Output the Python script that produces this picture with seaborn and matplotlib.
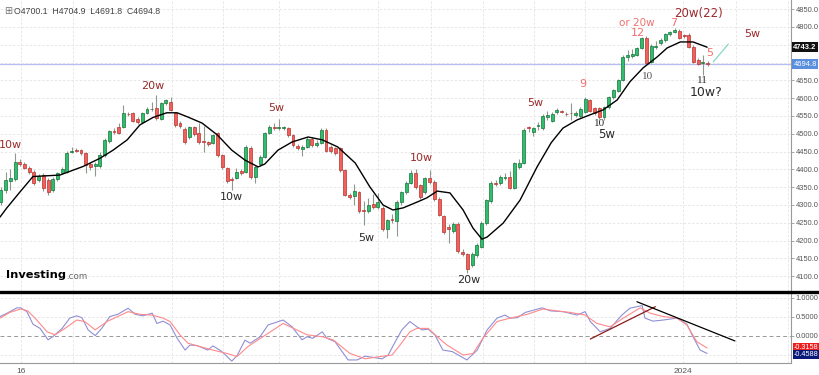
import numpy as np
import pandas as pd
import matplotlib.pyplot as plt
import matplotlib.transforms as mtransforms
from matplotlib.lines import Line2D
import seaborn as sns

# ---- daily candles ----
opens = [4308, 4342, 4367, 4373, 4420, 4415, 4404, 4393, 4370, 4384,
         4370, 4342, 4373, 4390, 4393, 4450, 4455, 4454, 4446, 4415,
         4410, 4409, 4440, 4480, 4508, 4519, 4519, 4556, 4558, 4541,
         4533, 4558, 4569, 4572, 4541, 4586, 4589, 4558, 4530, 4513,
         4491, 4519, 4502, 4479, 4477, 4474, 4502, 4440, 4404, 4372,
         4376, 4395, 4393, 4460, 4379, 4415, 4435, 4502, 4518, 4516,
         4516, 4516, 4497, 4466, 4457, 4463, 4486, 4469, 4474, 4511,
         4463, 4460, 4460, 4398, 4328, 4325, 4336, 4285, 4283, 4303,
         4294, 4291, 4232, 4261, 4255, 4308, 4336, 4362, 4390, 4356,
         4336, 4376, 4365, 4317, 4269, 4238, 4227, 4247, 4168, 4162,
         4131, 4159, 4182, 4249, 4311, 4362, 4362, 4376, 4379, 4348,
         4407, 4418, 4517, 4505, 4522, 4516, 4547, 4536, 4561, 4564,
         4556, 4558, 4553, 4550, 4561, 4595, 4572, 4572, 4547, 4575,
         4603, 4620, 4651, 4716, 4719, 4722, 4741, 4769, 4702, 4744,
         4755, 4763, 4780, 4786, 4789, 4776, 4778, 4744, 4708, 4699,
         4700.1]
closes = [4342, 4370, 4376, 4420, 4415, 4404, 4393, 4362, 4381, 4348,
          4336, 4373, 4390, 4401, 4446, 4452, 4453, 4446, 4412, 4407,
          4415, 4440, 4483, 4508, 4505, 4502, 4558, 4555, 4536, 4533,
          4558, 4570, 4570, 4544, 4586, 4594, 4567, 4525, 4522, 4477,
          4519, 4499, 4477, 4477, 4471, 4497, 4440, 4407, 4367, 4370,
          4393, 4390, 4463, 4379, 4407, 4435, 4502, 4519, 4515, 4517,
          4518, 4497, 4469, 4460, 4463, 4486, 4469, 4474, 4511, 4452,
          4452, 4446, 4398, 4328, 4322, 4338, 4283, 4283, 4300, 4294,
          4308, 4232, 4258, 4259, 4308, 4336, 4362, 4390, 4350, 4322,
          4376, 4365, 4317, 4272, 4224, 4232, 4247, 4171, 4162, 4120,
          4162, 4187, 4249, 4314, 4362, 4359, 4379, 4379, 4348, 4418,
          4418, 4510, 4516, 4516, 4525, 4550, 4553, 4555, 4567, 4561,
          4555, 4557, 4558, 4570, 4598, 4564, 4558, 4547, 4575, 4603,
          4623, 4651, 4716, 4722, 4724, 4741, 4769, 4699, 4747, 4747,
          4763, 4780, 4786, 4791, 4769, 4775, 4744, 4702, 4696, 4700,
          4694.8]
highs = [4350, 4393, 4400, 4446, 4428, 4420, 4410, 4398, 4386, 4390,
         4375, 4378, 4394, 4406, 4452, 4462, 4460, 4458, 4450, 4420,
         4420, 4448, 4488, 4512, 4515, 4531, 4580, 4562, 4562, 4546,
         4562, 4575, 4588, 4609, 4590, 4597, 4603, 4562, 4535, 4520,
         4523, 4523, 4530, 4522, 4480, 4500, 4506, 4444, 4408, 4378,
         4405, 4400, 4468, 4465, 4412, 4440, 4506, 4525, 4530, 4541,
         4522, 4520, 4500, 4470, 4468, 4490, 4490, 4482, 4515, 4515,
         4468, 4464, 4463, 4402, 4333, 4360, 4340, 4310, 4320, 4330,
         4335, 4296, 4262, 4275, 4315, 4340, 4368, 4398, 4400, 4360,
         4380, 4398, 4370, 4322, 4272, 4248, 4252, 4251, 4175, 4166,
         4168, 4192, 4254, 4318, 4366, 4370, 4384, 4390, 4395, 4422,
         4430, 4515, 4522, 4520, 4533, 4555, 4565, 4560, 4572, 4568,
         4560, 4586, 4563, 4575, 4602, 4598, 4576, 4576, 4579, 4607,
         4627, 4655, 4720, 4735, 4738, 4745, 4773, 4776, 4752, 4762,
         4768, 4784, 4790, 4798, 4793, 4780, 4782, 4748, 4712, 4722,
         4704.9]
lows = [4300, 4335, 4342, 4368, 4410, 4400, 4388, 4355, 4365, 4340,
        4328, 4336, 4368, 4386, 4390, 4445, 4448, 4440, 4390, 4398,
        4381, 4405, 4436, 4475, 4498, 4498, 4515, 4550, 4532, 4528,
        4530, 4555, 4565, 4540, 4538, 4582, 4563, 4518, 4515, 4472,
        4486, 4494, 4470, 4450, 4466, 4470, 4436, 4402, 4362, 4342,
        4372, 4385, 4390, 4372, 4362, 4410, 4432, 4498, 4510, 4510,
        4510, 4492, 4462, 4455, 4437, 4460, 4464, 4462, 4470, 4448,
        4447, 4440, 4394, 4324, 4318, 4300, 4278, 4244, 4278, 4288,
        4290, 4226, 4207, 4250, 4213, 4300, 4332, 4358, 4345, 4318,
        4330, 4360, 4312, 4268, 4218, 4193, 4222, 4166, 4158, 4110,
        4126, 4155, 4178, 4245, 4306, 4352, 4355, 4370, 4345, 4345,
        4402, 4414, 4505, 4495, 4512, 4512, 4540, 4532, 4556, 4557,
        4550, 4539, 4548, 4545, 4557, 4560, 4552, 4542, 4540, 4571,
        4598, 4616, 4648, 4705, 4712, 4718, 4737, 4695, 4698, 4738,
        4750, 4759, 4776, 4782, 4765, 4770, 4740, 4698, 4692, 4665,
        4691.8]

# ---- smoothed moving average (black line) ----
ma_idx = [-0.2, 1.2, 4.0, 6.8, 12.5, 17.4, 21.0, 23.8, 26.8, 29.5,
          32.3, 35.2, 37.4, 39.7, 42.7, 45.9, 49.0, 51.8, 54.6, 56.0,
          58.8, 61.8, 65.2, 68.2, 71.5, 75.2, 78.3, 81.1, 83.2, 85.4,
          88.3, 90.4, 92.6, 95.3, 98.1, 100.2, 102.1, 103.2, 106.6, 110.2,
          113.8, 116.8, 119.3, 122.3, 125.0, 127.8, 130.8, 133.5, 136.3, 139.3,
          141.4, 144.2, 146.9, 149.9]
ma_val = [4266, 4291, 4336, 4380, 4384, 4408, 4431, 4454, 4483, 4525,
          4546, 4559, 4559, 4547, 4530, 4497, 4454, 4426, 4407, 4415,
          4454, 4477, 4491, 4483, 4463, 4418, 4351, 4300, 4286, 4292,
          4308, 4320, 4339, 4334, 4286, 4235, 4204, 4210, 4249, 4314,
          4407, 4475, 4516, 4539, 4553, 4567, 4595, 4646, 4685, 4716,
          4741, 4758, 4758, 4743.2]

# ---- oscillator (lower panel) ----
k_idx = [-0.2, 1.3, 3.4, 4.2, 5.5, 6.8, 8.3, 10.0, 11.0, 13.0,
         14.6, 16.1, 17.2, 18.5, 20.0, 21.4, 23.1, 24.8, 27.0, 28.5,
         30.1, 32.1, 33.1, 34.4, 35.9, 37.4, 39.1, 40.1, 41.6, 43.9,
         45.0, 46.9, 49.0, 50.1, 51.8, 52.9, 55.0, 56.7, 59.9, 61.8,
         63.9, 65.0, 66.2, 68.2, 69.2, 70.9, 73.7, 75.6, 77.3, 80.9,
         82.2, 83.7, 85.1, 86.8, 88.3, 89.4, 90.7, 92.1, 93.8, 95.8,
         98.9, 101.1, 103.2, 105.3, 107.0, 108.1, 109.6, 111.3, 114.9, 116.6,
         119.3, 122.3, 124.0, 125.1, 127.2, 129.3, 131.8, 133.5, 136.1, 136.7,
         138.4, 140.6, 143.5, 145.6, 146.9, 148.4, 149.9]
k_val = [0.51, 0.60, 0.74, 0.74, 0.64, 0.31, 0.20, -0.10, -0.02, 0.20,
         0.47, 0.53, 0.48, 0.16, 0.01, 0.20, 0.51, 0.57, 0.73, 0.57,
         0.53, 0.60, 0.33, 0.39, 0.29, -0.06, -0.37, -0.24, -0.25, -0.37,
         -0.26, -0.41, -0.66, -0.52, -0.11, -0.19, -0.02, 0.29, 0.42, 0.24,
         -0.10, -0.02, -0.06, 0.11, -0.06, -0.15, -0.63, -0.63, -0.53, -0.60,
         -0.50, -0.15, 0.16, 0.38, 0.24, 0.16, 0.18, 0.03, -0.37, -0.41,
         -0.63, -0.37, 0.16, 0.47, 0.55, 0.47, 0.48, 0.62, 0.74, 0.66,
         0.64, 0.55, 0.64, 0.38, 0.11, 0.20, 0.55, 0.73, 0.80, 0.47,
         0.39, 0.42, 0.47, 0.31, -0.02, -0.37, -0.4588]
d_idx = [-0.2, 1.9, 4.2, 5.7, 7.6, 9.8, 11.5, 13.6, 16.1, 17.8,
         20.0, 22.5, 27.0, 29.5, 32.1, 34.4, 35.9, 38.0, 39.7, 42.3,
         45.0, 48.0, 50.1, 52.4, 55.6, 59.9, 62.8, 65.0, 68.2, 70.5,
         74.1, 77.3, 80.5, 83.0, 84.7, 86.8, 88.3, 90.7, 92.6, 94.7,
         98.1, 100.2, 102.3, 105.3, 108.1, 111.7, 115.1, 118.0, 120.8, 124.0,
         126.5, 129.3, 132.1, 135.7, 137.8, 140.6, 143.5, 145.6, 147.7, 149.9]
d_val = [0.47, 0.62, 0.71, 0.66, 0.42, 0.11, 0.03, 0.20, 0.42, 0.38,
         0.16, 0.38, 0.64, 0.57, 0.55, 0.47, 0.38, 0.03, -0.19, -0.28,
         -0.37, -0.46, -0.54, -0.28, -0.02, 0.33, 0.16, 0.03, -0.02, -0.10,
         -0.46, -0.60, -0.54, -0.50, -0.24, 0.11, 0.20, 0.20, -0.02, -0.24,
         -0.50, -0.46, -0.06, 0.38, 0.47, 0.57, 0.71, 0.66, 0.62, 0.55,
         0.33, 0.24, 0.47, 0.74, 0.60, 0.51, 0.47, 0.29, -0.15, -0.3158]

# hand-drawn trend lines
osc_up_x, osc_up_y = [125.1, 138.9], [-0.08, 0.77]
osc_dn_x, osc_dn_y = [135.0, 155.8], [0.90, -0.13]
px_line_x, px_line_y = [151.2, 154.4], [4702, 4752]

last_close = 4694.8
last_ma = 4743.2

# wave labels: text, candle index, price, colour, size, family
dark_red = "#9b2a2a"
pink = "#f07070"
dark = "#2a2a2a"
labels = [
    ("10w", 2.1, 4469, dark_red, 8, "DejaVu Sans"),
    ("20w", 32.3, 4634, dark_red, 8, "DejaVu Sans"),
    ("5w", 58.4, 4572, dark_red, 8, "DejaVu Sans"),
    ("10w", 49.0, 4322, dark, 8, "DejaVu Sans"),
    ("5w", 77.5, 4207, dark, 8, "DejaVu Sans"),
    ("10w", 89.2, 4432, dark_red, 8, "DejaVu Sans"),
    ("20w", 99.2, 4089, dark, 8, "DejaVu Sans"),
    ("5w", 113.4, 4587, dark_red, 8, "DejaVu Sans"),
    ("9", 123.6, 4640, pink, 8, "DejaVu Sans"),
    ("10", 127.0, 4528, dark, 8, "Liberation Serif"),
    ("5w", 128.5, 4497, dark, 8.5, "DejaVu Sans"),
    ("12", 135.2, 4783, pink, 8, "DejaVu Sans"),
    ("or 20w", 135.0, 4811, pink, 7.5, "DejaVu Sans"),
    ("10", 137.2, 4662, "#555555", 8, "Liberation Serif"),
    ("7", 142.7, 4811, pink, 8, "DejaVu Sans"),
    ("20w(22)", 148.0, 4839, dark_red, 8.5, "DejaVu Sans"),
    ("5", 150.5, 4727, pink, 8, "DejaVu Sans"),
    ("11", 149.0, 4651, dark, 8, "Liberation Serif"),
    ("10w?", 149.7, 4615, dark, 9, "DejaVu Sans"),
    ("5w", 159.4, 4780, dark_red, 8, "DejaVu Sans"),
]

grid_idx = [4.2, 15.3, 36.3, 47.1, 59.0, 80.0, 91.3, 102.3, 113.2, 124.0, 144.8, 156.0, 167.0]
price_ticks = [4100, 4150, 4200, 4250, 4300, 4350, 4400, 4450, 4500, 4550, 4600, 4650, 4700, 4750, 4800, 4850]

sns.set_style("white")
plt.rcParams['font.family'] = ['DejaVu Sans']
axis_font = "Liberation Sans"

df = pd.DataFrame({"open": opens, "close": closes, "high": highs, "low": lows})
df["idx"] = np.arange(len(df))
df["up"] = df["close"] >= df["open"]

fig = plt.figure(figsize=(8.2, 3.75), dpi=100)
W, H = 820, 375
ax1 = fig.add_axes([0, 1 - 291 / H, 791 / W, 291 / H])
ax2 = fig.add_axes([0, 1 - 363 / H, 791 / W, 70 / H])

xlim = (-0.2, 167.7)
grid_kw = dict(color="#e4e4e4", lw=0.6, ls=(0, (3, 2)), zorder=0)

# ---------------- price panel ----------------
ax1.set_xlim(*xlim)
ax1.set_ylim(4058.4, 4875.8)
for g in grid_idx:
    ax1.axvline(g, **grid_kw)
for t in price_ticks:
    ax1.axhline(t, **grid_kw)

ax1.axhline(last_close, color="#b8bdf2", lw=0.9, zorder=1)

ax1.vlines(df["idx"], df["low"], df["high"], color="#8c9a8e", lw=0.8, zorder=2)
body_lo = np.minimum(df["open"], df["close"])
body_h = np.maximum(np.abs(df["close"] - df["open"]), 1.8)
face = np.where(df["up"], "#2fbf6c", "#f0615b")
edge = np.where(df["up"], "#17723c", "#b8322e")
ax1.bar(df["idx"], body_h, bottom=body_lo, width=0.62, color=face,
        edgecolor=edge, linewidth=0.5, zorder=3)

sns.lineplot(x=ma_idx, y=ma_val, ax=ax1, color="black", lw=1.0, zorder=4, sort=False)
ax1.plot(px_line_x, px_line_y, color="#86d8c4", lw=0.9, zorder=4)

for txt, xi, yp, col, fs, fam in labels:
    ax1.text(xi, yp, txt, color=col, fontsize=fs, family=fam,
             ha="center", va="center", zorder=5)

ax1.yaxis.tick_right()
ax1.set_yticks(price_ticks)
ax1.set_yticklabels(["" if t in (4700, 4750) else f"{t:.1f}" for t in price_ticks],
                    family=axis_font)
ax1.tick_params(axis="y", labelsize=5.4, labelcolor="#555555", colors="#999999",
                length=2.5, width=0.6, pad=1)
ax1.set_xticks([])
for s in ["top", "left", "bottom"]:
    ax1.spines[s].set_visible(False)
ax1.spines["right"].set_color("#999999")
ax1.spines["right"].set_linewidth(0.8)

blend1 = mtransforms.blended_transform_factory(ax1.transAxes, ax1.transData)
ax1.text(1.003, last_ma, f"{last_ma:.1f}", transform=blend1, fontsize=5.4,
         family=axis_font, color="white", fontweight="bold", va="center", ha="left",
         zorder=6, bbox=dict(boxstyle="square,pad=0.2", fc="#111111", ec="none"),
         clip_on=False)
ax1.text(1.003, last_close, f"{last_close:.1f}", transform=blend1, fontsize=5.4,
         family=axis_font, color="white", va="center", ha="left", zorder=6,
         bbox=dict(boxstyle="square,pad=0.2", fc="#5a8fe0", ec="none"), clip_on=False)

ax1.text(0.005, 0.962, "\u229e", transform=ax1.transAxes, fontsize=7, color="#777777",
         va="center", ha="left")
ax1.text(0.018, 0.962, "O4700.1  H4704.9  L4691.8  C4694.8", transform=ax1.transAxes,
         fontsize=6.3, family=axis_font, color="#444444", va="center", ha="left")

ax1.text(0.008, 0.055, "Investing", transform=ax1.transAxes, fontsize=8.2,
         fontweight="bold", color="black", va="center", ha="left")
ax1.text(0.084, 0.050, ".com", transform=ax1.transAxes, fontsize=6.3,
         color="#666666", va="center", ha="left")

# ---------------- oscillator panel ----------------
ax2.set_xlim(*xlim)
ax2.set_ylim(-0.71, 1.13)
for g in grid_idx:
    ax2.axvline(g, **grid_kw)
for t in [1.0, 0.5, -0.5]:
    ax2.axhline(t, **grid_kw)
ax2.axhline(0.0, color="#999999", lw=0.7, ls=(0, (4, 3)), zorder=1)

sns.lineplot(x=k_idx, y=k_val, ax=ax2, color="#8f8fd6", lw=0.8, zorder=3, sort=False)
sns.lineplot(x=d_idx, y=d_val, ax=ax2, color="#ff8a8a", lw=0.8, zorder=3, sort=False)
ax2.plot(osc_up_x, osc_up_y, color="#8b1a1a", lw=0.9, zorder=4)
ax2.plot(osc_dn_x, osc_dn_y, color="black", lw=0.9, zorder=4)

ax2.yaxis.tick_right()
ax2.set_yticks([1.0, 0.5, 0.0])
ax2.set_yticklabels(["1.0000", "0.5000", "0.0000"], family=axis_font)
ax2.tick_params(axis="y", labelsize=5.4, labelcolor="#555555", colors="#999999",
                length=2.5, width=0.6, pad=1)
ax2.set_xticks(grid_idx)
ax2.set_xticklabels(["16" if g == 4.2 else ("2024" if g == 144.8 else "") for g in grid_idx],
                    family=axis_font)
ax2.tick_params(axis="x", labelsize=6, labelcolor="#555555", colors="#999999",
                length=3, width=0.6, pad=0.5)
ax2.spines["top"].set_visible(False)
ax2.spines["left"].set_visible(False)
ax2.spines["right"].set_color("#999999")
ax2.spines["bottom"].set_color("#999999")
ax2.spines["right"].set_linewidth(0.8)
ax2.spines["bottom"].set_linewidth(0.8)

blend2 = mtransforms.blended_transform_factory(ax2.transAxes, ax2.transData)
ax2.text(1.003, d_val[-1] + 0.02, f"{d_val[-1]:.4f}", transform=blend2, fontsize=5.2,
         family=axis_font, color="white", va="center", ha="left", zorder=6,
         bbox=dict(boxstyle="square,pad=0.12", fc="#ee1c1c", ec="none"), clip_on=False)
ax2.text(1.003, k_val[-1] - 0.02, f"{k_val[-1]:.4f}", transform=blend2, fontsize=5.2,
         family=axis_font, color="white", va="center", ha="left", zorder=6,
         bbox=dict(boxstyle="square,pad=0.12", fc="#0a1a7a", ec="none"), clip_on=False)

# thick separator between panels
fig.add_artist(Line2D([0, 1], [1 - 291.5 / H, 1 - 291.5 / H], color="black", lw=2.4,
                      transform=fig.transFigure))

fig.savefig("out.png", dpi=100)
